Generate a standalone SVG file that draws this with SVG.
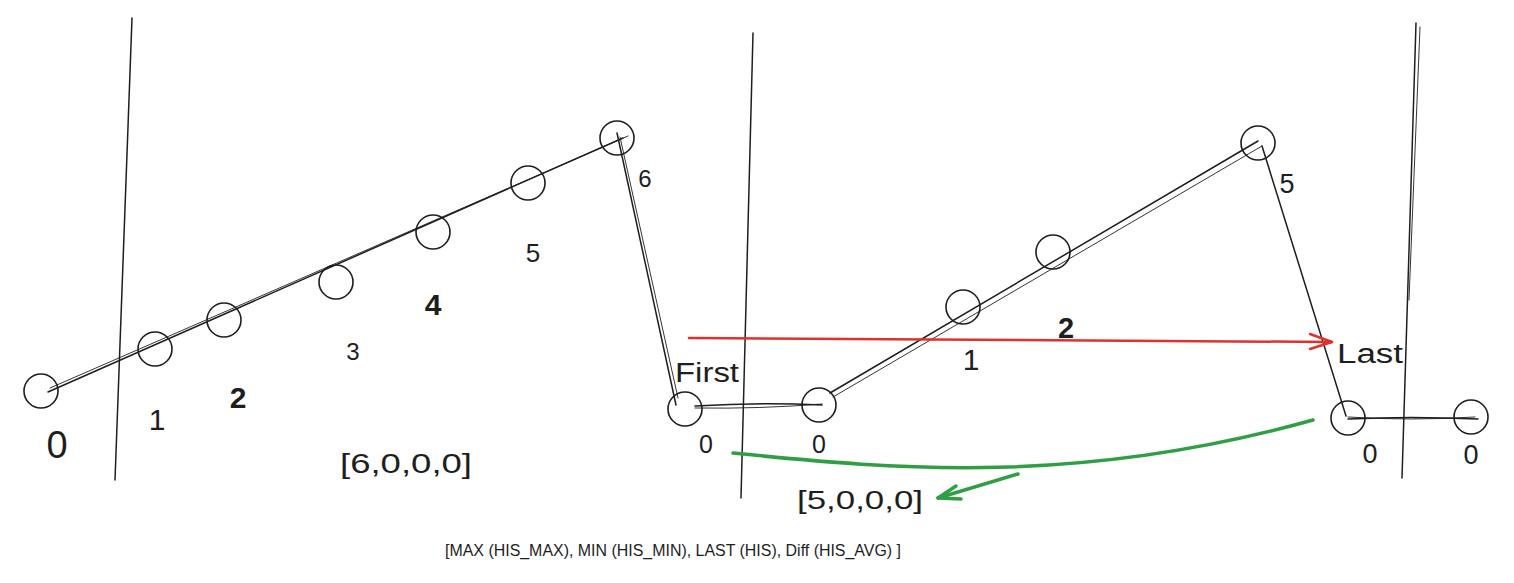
<svg xmlns="http://www.w3.org/2000/svg" width="1514" height="583" viewBox="0 0 1514 583">
<style>
.ln{fill:none;stroke:#1e1e1e;stroke-width:1.5;stroke-linecap:round}
.ln2{fill:none;stroke:#1e1e1e;stroke-width:0.9;stroke-linecap:round}
.nd{fill:none;stroke:#1e1e1e;stroke-width:1.6}
.t{font-family:"Liberation Sans",Arial,sans-serif;fill:#1e1e1e;}
.red{fill:none;stroke:#e03131;stroke-width:2.5;stroke-linecap:round;stroke-linejoin:round}
.grn{fill:none;stroke:#2f9e44;stroke-width:3.5;stroke-linecap:round;stroke-linejoin:round}
</style>
<rect width="1514" height="583" fill="#ffffff"/>
<g id="dividers">
<path class="ln" d="M132,18 L115,480"/>
<path class="ln" d="M753,33 L741,498"/>
<path class="ln" d="M1416,23 L1402,478"/>
<path class="ln2" d="M1420,27 L1409,300"/>
</g>
<g id="connectors">
<path class="ln" d="M48,392 L623,138"/>
<path class="ln2" d="M50,388 L628,136"/>
<path class="ln" d="M617,133 L676,405"/>
<path class="ln2" d="M620,137 L678,398"/>
<path class="ln" d="M695,406 Q760,402 822,405"/>
<path class="ln2" d="M695,408 Q760,409 822,404"/>
<path class="ln" d="M830,393 L1258,141"/>
<path class="ln2" d="M833,397 L1262,146"/>
<path class="ln" d="M1262,146 L1346,416"/>
<path class="ln" d="M1348,419 Q1410,416 1478,419"/>
<path class="ln2" d="M1348,417 Q1410,421 1475,417"/>
<path class="red" d="M689,338 L1332,342"/>
<path class="red" d="M1310,334 L1332,342 L1310,349"/>
<path class="grn" d="M733,453 C900,470 1080,485 1313,420"/>
<path class="grn" d="M1018,474 L938,498"/>
<path class="grn" d="M956,486 L938,498 L961,499"/>
</g>
<g id="n0"><circle class="nd" cx="41" cy="391" r="17"/></g>
<g id="n1"><circle class="nd" cx="155" cy="349" r="17"/></g>
<g id="n2"><circle class="nd" cx="224" cy="320" r="17"/></g>
<g id="n3"><circle class="nd" cx="336" cy="282" r="17"/></g>
<g id="n4"><circle class="nd" cx="433" cy="232" r="17"/></g>
<g id="n5"><circle class="nd" cx="528" cy="183" r="17"/></g>
<g id="n6"><circle class="nd" cx="617" cy="138" r="17"/></g>
<g id="m0"><circle class="nd" cx="685" cy="409" r="17"/></g>
<g id="m1"><circle class="nd" cx="819" cy="405" r="17"/></g>
<g id="m2"><circle class="nd" cx="963" cy="307" r="17"/></g>
<g id="m3"><circle class="nd" cx="1053" cy="252" r="17"/></g>
<g id="m4"><circle class="nd" cx="1258" cy="143" r="17"/></g>
<g id="m5"><circle class="nd" cx="1348" cy="418" r="17"/></g>
<g id="m6"><circle class="nd" cx="1471" cy="417" r="17"/></g>
<g id="labels">
<text class="t" x="57" y="458" font-size="38" text-anchor="middle">0</text>
<text class="t" x="157" y="430" font-size="30" text-anchor="middle">1</text>
<text class="t" x="238" y="408" font-size="30" text-anchor="middle" font-weight="bold">2</text>
<text class="t" x="353" y="360" font-size="24" text-anchor="middle">3</text>
<text class="t" x="433" y="315" font-size="30" text-anchor="middle" font-weight="bold">4</text>
<text class="t" x="533" y="262" font-size="26" text-anchor="middle">5</text>
<text class="t" x="645" y="187" font-size="24" text-anchor="middle">6</text>
<text class="t" x="340" y="473" font-size="28" textLength="132" lengthAdjust="spacingAndGlyphs">[6,0,0,0]</text>
<text class="t" x="675" y="382" font-size="27" textLength="64" lengthAdjust="spacingAndGlyphs">First</text>
<text class="t" x="706" y="453" font-size="25" text-anchor="middle">0</text>
<text class="t" x="819" y="453" font-size="25" text-anchor="middle">0</text>
<text class="t" x="971" y="370" font-size="30" text-anchor="middle">1</text>
<text class="t" x="1066" y="338" font-size="29" text-anchor="middle" font-weight="bold">2</text>
<text class="t" x="1287" y="193" font-size="27" text-anchor="middle">5</text>
<text class="t" x="1337" y="363" font-size="27" textLength="66" lengthAdjust="spacingAndGlyphs">Last</text>
<text class="t" x="1370" y="463" font-size="27" text-anchor="middle">0</text>
<text class="t" x="1471" y="464" font-size="27" text-anchor="middle">0</text>
<text class="t" x="797" y="509" font-size="26" textLength="126" lengthAdjust="spacingAndGlyphs">[5,0,0,0]</text>
<text class="t" x="445" y="556" font-size="16" textLength="456" lengthAdjust="spacingAndGlyphs">[MAX (HIS_MAX), MIN (HIS_MIN), LAST (HIS), Diff (HIS_AVG) ]</text>
</g>
</svg>
